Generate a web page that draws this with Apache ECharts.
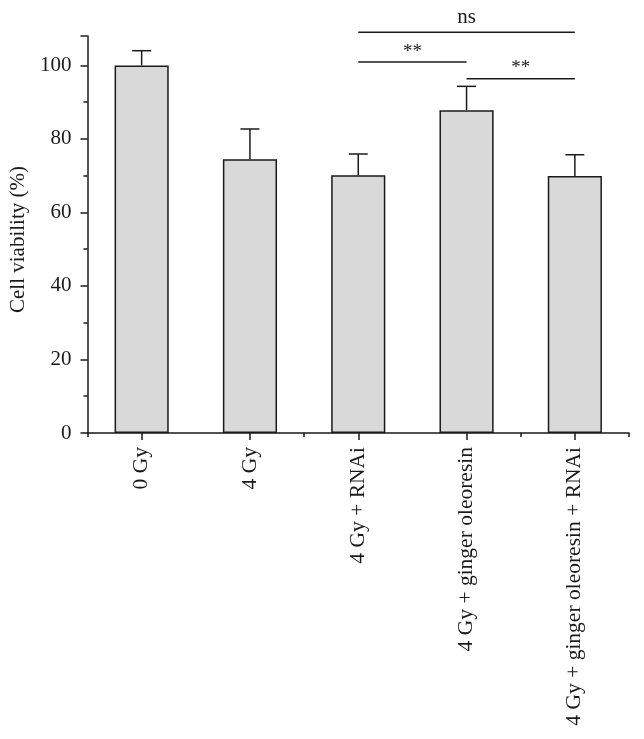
<!DOCTYPE html>
<html>
<head>
<meta charset="utf-8">
<script src="https://cdn.jsdelivr.net/npm/echarts@6/dist/echarts.min.js"></script>
<style>
html,body{margin:0;padding:0;background:#fff;}
#chart{width:644px;height:739px;}
</style>
</head>
<body>
<div id="chart"></div>
<script>
const categories = ['0 Gy', '4 Gy', '4 Gy + RNAi', '4 Gy + ginger oleoresin', '4 Gy + ginger oleoresin + RNAi'];
const viability = [100, 74.5, 70.1, 87.8, 69.9];
const errorTop = [104, 82.7, 75.9, 94.3, 75.7];
const yTicks = [0, 20, 40, 60, 80, 100];
// significance brackets: [fromIndex, toIndex, height, label]
const brackets = [
  [2, 4, 109, 'ns'],
  [2, 3, 100.9, '**'],
  [3, 4, 96.4, '**']
];

const FONT = '"Liberation Serif", "DejaVu Serif", serif';
const INK = '#1a1a1a';

const chart = echarts.init(document.getElementById('chart'));
chart.setOption({
  animation: false,
  backgroundColor: '#fff',
  grid: { left: 87.5, right: 15, top: 36, bottom: 306, containLabel: false },
  xAxis: [{
    type: 'category',
    data: categories,
    boundaryGap: true,
    axisLine: { show: true, lineStyle: { color: INK, width: 1.5 } },
    axisTick: { show: true, alignWithLabel: true, length: 7, lineStyle: { color: INK, width: 1.5 } },
    axisLabel: { rotate: 90, margin: 14, fontFamily: FONT, fontSize: 21.5, color: INK, interval: 0 },
    splitLine: { show: false }
  }, {
    type: 'category',
    data: categories,
    position: 'bottom',
    boundaryGap: true,
    axisLine: { show: false },
    axisTick: { show: true, alignWithLabel: false, length: 4, lineStyle: { color: INK, width: 1.5 } },
    axisLabel: { show: false },
    splitLine: { show: false }
  }],
  yAxis: {
    type: 'value',
    min: 0, max: 108, interval: 20,
    name: 'Cell viability (%)',
    nameLocation: 'middle',
    nameGap: 54,
    nameTextStyle: { fontFamily: FONT, fontSize: 21, color: INK, padding: [0, 10, 0, 0] },
    axisLine: { show: true, lineStyle: { color: INK, width: 1.5 } },
    axisTick: { show: true, length: 7, lineStyle: { color: INK, width: 1.5 } },
    minorTick: { show: true, splitNumber: 2, length: 4, lineStyle: { color: INK, width: 1.5 } },
    axisLabel: {
      margin: 16, fontFamily: FONT, fontSize: 21, color: INK,
      formatter: v => (yTicks.indexOf(v) >= 0 ? String(v) : '')
    },
    splitLine: { show: false }
  },
  series: [{
    type: 'bar',
    data: viability,
    barWidth: '50%',
    itemStyle: { color: '#d9d9d9', borderColor: INK, borderWidth: 1.5 },
    z: 2
  }, {
    type: 'custom',
    data: viability.map((v, i) => [i, v, errorTop[i]]),
    clip: false,
    z: 3,
    renderItem: function (params, api) {
      const base = api.coord([api.value(0), api.value(1)]);
      const top = api.coord([api.value(0), api.value(2)]);
      const half = 9.5;
      const st = { stroke: INK, lineWidth: 1.5 };
      return {
        type: 'group',
        children: [
          { type: 'line', shape: { x1: base[0], y1: base[1], x2: top[0], y2: top[1] }, style: st },
          { type: 'line', shape: { x1: top[0] - half, y1: top[1], x2: top[0] + half, y2: top[1] }, style: st }
        ]
      };
    }
  }, {
    type: 'custom',
    data: brackets,
    clip: false,
    z: 4,
    renderItem: function (params, api) {
      const b = brackets[params.dataIndex];
      const p1 = api.coord([b[0], b[2]]);
      const p2 = api.coord([b[1], b[2]]);
      const isNs = b[3] === 'ns';
      return {
        type: 'group',
        children: [
          { type: 'line', shape: { x1: p1[0], y1: p1[1], x2: p2[0], y2: p2[1] }, style: { stroke: INK, lineWidth: 1.5 } },
          { type: 'text', x: (p1[0] + p2[0]) / 2, y: p1[1] - (isNs ? 4 : 1),
            style: { text: b[3], fontFamily: FONT, fontSize: isNs ? 21 : 19, fill: INK, align: 'center', verticalAlign: 'bottom' } }
        ]
      };
    }
  }]
});
</script>
</body>
</html>
